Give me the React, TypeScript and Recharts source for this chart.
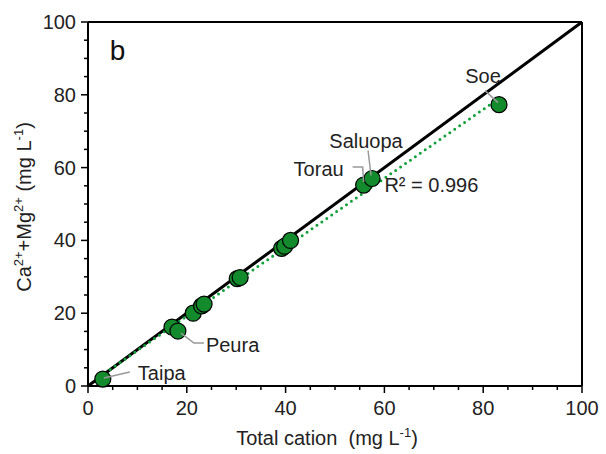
import React from 'react';
import {
  ComposedChart,
  Scatter,
  XAxis,
  YAxis,
  ReferenceLine,
  ReferenceDot,
} from 'recharts';

// sample values
const totalCation = [3.0, 17.0, 18.2, 21.3, 23.0, 23.5, 30.2, 30.8, 39.2, 39.8, 41.0, 55.8, 57.5, 83.2];
const caMg = [1.9, 16.2, 15.1, 20.0, 22.0, 22.5, 29.5, 29.8, 37.8, 38.4, 40.0, 55.2, 57.0, 77.3];
const siteNames = ['Taipa', '', 'Peura', '', '', '', '', '', '', '', '', 'Torau', 'Saluopa', 'Soe'];

const axisTicks = [0, 5, 10, 15, 20, 25, 30, 35, 40, 45, 50, 55, 60, 65, 70, 75, 80, 85, 90, 95, 100];

// 1:1 line and linear fit end points
const oneToOneX = [0, 100];
const oneToOneY = [0, 100];
const fitX = [3.5, 83.5];
const fitY = [3.6, 79.3];
const rSquared = '0.996';

const points = totalCation.map((x, i) => ({ x, y: caMg[i], name: siteNames[i] }));
const labelled = points.filter((p) => p.name !== '');
const oneToOne = oneToOneX.map((x, i) => ({ x, y: oneToOneY[i] }));
const fitLine = fitX.map((x, i) => ({ x, y: fitY[i] }));

// leader line + text placement per site (pixel offsets from the marker)
const labelLayout: Record<string, { path: number[][]; tx: number; ty: number; anchor: string }> = {
  Taipa: { path: [[1, -1], [27, -7]], tx: 35, ty: -6, anchor: 'start' },
  Peura: { path: [[3, 2], [16, 12], [26, 12]], tx: 28, ty: 14, anchor: 'start' },
  Torau: { path: [[-11, -18], [-1, -18], [0, -3]], tx: -20, ty: -16, anchor: 'end' },
  Saluopa: { path: [[-4, -28], [-1, -3]], tx: -6, ty: -38, anchor: 'middle' },
  Soe: { path: [[-14, -14], [-1, -2]], tx: -16, ty: -29, anchor: 'middle' },
};

const FONT = '"Liberation Sans", Arial, sans-serif';
const FS = 20;
const SUP = 13;

const XTick = ({ x, y, payload }: any) => {
  const major = payload.value % 20 === 0;
  return (
    <g>
      <line x1={x} x2={x} y1={y} y2={y + (major ? 7 : 4)} stroke="#000" strokeWidth={1.5} />
      {major && (
        <text x={x} y={y + 29} textAnchor="middle" fontSize={FS} fill="#222" fontFamily={FONT}>
          {payload.value}
        </text>
      )}
    </g>
  );
};

const YTick = ({ x, y, payload }: any) => {
  const major = payload.value % 20 === 0;
  return (
    <g>
      <line x1={x - (major ? 7 : 4)} x2={x} y1={y} y2={y} stroke="#000" strokeWidth={1.5} />
      {major && (
        <text x={x - 12} y={y + 7} textAnchor="end" fontSize={FS} fill="#222" fontFamily={FONT}>
          {payload.value}
        </text>
      )}
    </g>
  );
};

const Marker = ({ cx, cy }: any) => (
  <circle cx={cx} cy={cy} r={8} fill="#138a2b" stroke="#000" strokeWidth={1.2} />
);

const SiteLabel = ({ cx, cy, payload }: any) => {
  const l = labelLayout[payload.name];
  if (!l) return <g />;
  const pts = l.path.map(([dx, dy]) => `${cx + dx},${cy + dy}`).join(' ');
  return (
    <g>
      <polyline points={pts} fill="none" stroke="#999" strokeWidth={1.5} />
      <text x={cx + l.tx} y={cy + l.ty + 7} textAnchor={l.anchor} fontSize={FS} fill="#222" fontFamily={FONT}>
        {payload.name}
      </text>
    </g>
  );
};

const NoShape = () => <g />;

const YTitle = () => (
  <text transform="translate(31,207) rotate(-90)" textAnchor="middle" fontSize={FS} fill="#222" fontFamily={FONT}>
    Ca<tspan dy={-8} fontSize={SUP}>2+</tspan>
    <tspan dy={8}>+Mg</tspan>
    <tspan dy={-8} fontSize={SUP}>2+</tspan>
    <tspan dy={8}> (mg L</tspan>
    <tspan dy={-8} fontSize={SUP}>-1</tspan>
    <tspan dy={8}>)</tspan>
  </text>
);

const XTitle = () => (
  <text x={327} y={445} textAnchor="middle" fontSize={FS} fill="#222" fontFamily={FONT} style={{ whiteSpace: 'pre' }}>
    Total cation{'\u00a0\u00a0'}(mg L<tspan dy={-8} fontSize={SUP}>-1</tspan>
    <tspan dy={8}>)</tspan>
  </text>
);

export default function App() {
  return (
    <div style={{ position: 'absolute', left: 0, top: 0, background: '#fff' }}>
      <ComposedChart width={606} height={454} margin={{ top: 22, right: 24, bottom: 0, left: 0 }}>
        <XAxis
          type="number"
          dataKey="x"
          domain={[0, 100]}
          ticks={axisTicks}
          interval={0}
          tickSize={0}
          tickMargin={0}
          tickLine={false}
          tick={<XTick />}
          axisLine={{ stroke: '#000', strokeWidth: 2 }}
          height={68}
          label={<XTitle />}
        />
        <YAxis
          type="number"
          dataKey="y"
          domain={[0, 100]}
          ticks={axisTicks}
          interval={0}
          tickSize={0}
          tickMargin={0}
          tickLine={false}
          tick={<YTick />}
          axisLine={{ stroke: '#000', strokeWidth: 2 }}
          width={88}
          label={<YTitle />}
        />
        <ReferenceLine y={100} stroke="#000" strokeWidth={2} />
        <ReferenceLine x={100} stroke="#000" strokeWidth={2} />
        <Scatter
          data={oneToOne}
          line={{ stroke: '#000', strokeWidth: 3 }}
          shape={<NoShape />}
          isAnimationActive={false}
        />
        <Scatter
          data={fitLine}
          line={{ stroke: '#12a03a', strokeWidth: 3, strokeDasharray: '0 6', strokeLinecap: 'round' }}
          shape={<NoShape />}
          isAnimationActive={false}
        />
        <Scatter data={points} shape={<Marker />} isAnimationActive={false} />
        <Scatter data={labelled} shape={<SiteLabel />} isAnimationActive={false} />
        <ReferenceDot
          x={60}
          y={55.2}
          r={0}
          label={{ value: `R² = ${rSquared}`, position: 'right', offset: 0, fontSize: FS, fill: '#222', fontFamily: FONT }}
        />
        <ReferenceDot
          x={6}
          y={92.3}
          r={0}
          label={{ value: 'b', position: 'center', fontSize: 28, fill: '#111', fontFamily: FONT }}
        />
      </ComposedChart>
    </div>
  );
}
